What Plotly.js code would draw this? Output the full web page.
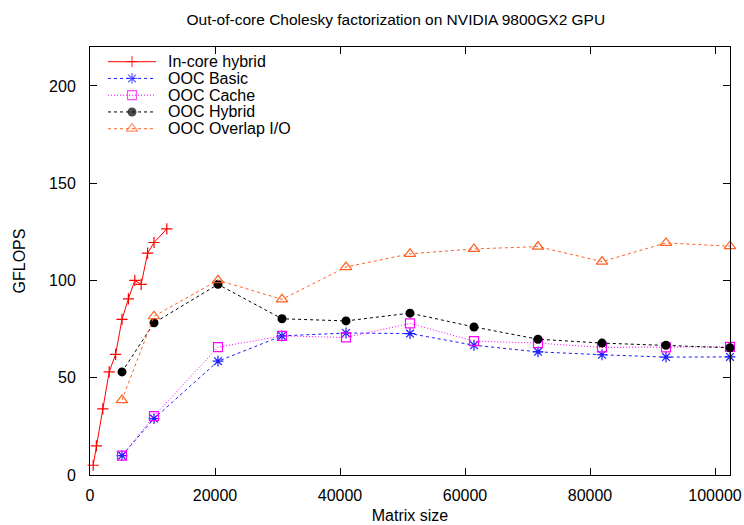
<!DOCTYPE html>
<html>
<head>
<meta charset="utf-8">
<script src="https://cdn.plot.ly/plotly-3.0.1.min.js"></script>
<style>html,body{margin:0;padding:0;background:#fff;}#chart{width:744px;height:525px;}</style>
</head>
<body>
<div id="chart"></div>
<script>
// ---- data ----
const seriesNames = ["In-core hybrid", "OOC Basic", "OOC Cache", "OOC Hybrid", "OOC Overlap I/O"];
const inCoreX = [512, 1024, 2048, 3072, 4096, 5120, 6144, 7168, 8192, 9216, 10240, 12288];
const inCoreY = [5, 15, 34, 53, 62, 80, 90.5, 100, 98, 114, 119.5, 126.5];
const oocX = [5120, 10240, 20480, 30720, 40960, 51200, 61440, 71680, 81920, 92160, 102400];
const basicY = [10, 29, 58.5, 71.5, 73, 72.7, 66.7, 63.3, 61.8, 60.6, 60.7];
const cacheY = [10, 30.3, 65.7, 71.5, 70.7, 77.9, 68.8, 67.8, 65.6, 65.6, 65.9];
const hybridY = [53, 78.2, 98, 80.3, 79.2, 83.2, 76.1, 69.8, 67.8, 66.7, 65.4];
const overlapY = [38.5, 81.6, 100.1, 90.3, 106.9, 113.7, 116.2, 117.4, 109.7, 119.3, 117.6];
const xTicks = [0, 20000, 40000, 60000, 80000, 100000];
const yTicks = [0, 50, 100, 150, 200];

// ---- styles ----
const styles = [
  {color: "#ff0000", dash: "solid", symbol: "cross-thin-open", size: 8, mlw: 1.2},
  {color: "#1a1aff", dash: "3px,3px", symbol: "asterisk-open", size: 9, mlw: 1.2},
  {color: "#ff00ff", dash: "1px,2px", symbol: "square-open", size: 9, mlw: 1.2},
  {color: "#000000", dash: "3px,3px", symbol: "circle", size: 9, mlw: 0},
  {color: "#ff6020", dash: "3px,3px", symbol: "triangle-up-open", size: 10, mlw: 1.2}
];
const xs = [inCoreX, oocX, oocX, oocX, oocX];
const ys = [inCoreY, basicY, cacheY, hybridY, overlapY];

const FONT = "Liberation Sans, Arial, sans-serif";
const traces = [];
seriesNames.forEach((name, i) => {
  const s = styles[i];
  traces.push({
    type: "scatter", mode: "lines+markers", name: name,
    x: xs[i], y: ys[i], cliponaxis: false, showlegend: false,
    line: {color: s.color, width: 1, dash: s.dash},
    marker: {symbol: s.symbol, size: s.size, color: s.color, line: {color: s.color, width: s.mlw}}
  });
});

// ---- legend keys (drawn in a pixel-like overlay axis) ----
const legRow0 = 14.7, legStep = 16.75, keyX0 = 18, keyX1 = 66, textX = 76;
const annotations = [];
seriesNames.forEach((name, i) => {
  const s = styles[i];
  const yy = legRow0 + i * legStep;
  traces.push({
    type: "scatter", mode: "lines+markers", xaxis: "x2", yaxis: "y2", showlegend: false, hoverinfo: "skip",
    x: [keyX0, (keyX0 + keyX1) / 2, keyX1], y: [yy, yy, yy], cliponaxis: false,
    line: {color: s.color, width: 1, dash: s.dash},
    marker: {symbol: s.symbol, size: [0, s.size, 0], color: s.color, line: {color: s.color, width: s.mlw}}
  });
  annotations.push({
    xref: "x2", yref: "y2", x: textX, y: yy, text: name, showarrow: false,
    xanchor: "left", yanchor: "middle", font: {family: FONT, size: 16, color: "#000"}
  });
});

const layout = {
  width: 744, height: 525,
  margin: {l: 90, r: 14, t: 47, b: 50},
  paper_bgcolor: "#fff", plot_bgcolor: "#fff",
  font: {family: FONT, size: 16, color: "#000"},
  showlegend: false,
  title: {text: "Out-of-core Cholesky factorization on NVIDIA 9800GX2 GPU", x: 0.532, xanchor: "center",
          y: 0.962, yanchor: "middle", font: {family: FONT, size: 15.5, color: "#000"}},
  xaxis: {
    range: [0, 102400], tickvals: xTicks, ticktext: xTicks.map(String),
    ticks: "inside", ticklen: 7, tickcolor: "#000", tickwidth: 1,
    showline: true, linecolor: "#000", linewidth: 1, mirror: "ticks",
    showgrid: false, zeroline: false, ticklabelstandoff: 6, ticklabeloverflow: "allow",
    tickfont: {family: FONT, size: 16, color: "#000"},
    title: {text: "Matrix size", standoff: 6, font: {family: FONT, size: 16, color: "#000"}}
  },
  yaxis: {
    range: [0, 220], tickvals: yTicks, ticktext: yTicks.map(String),
    ticks: "inside", ticklen: 7, tickcolor: "#000", tickwidth: 1,
    showline: true, linecolor: "#000", linewidth: 1, mirror: "ticks",
    showgrid: false, zeroline: false, ticklabelstandoff: 10,
    tickfont: {family: FONT, size: 16, color: "#000"},
    title: {text: "GFLOPS", standoff: 19, font: {family: FONT, size: 16, color: "#000"}}
  },
  xaxis2: {overlaying: "x", range: [0, 640], visible: false, fixedrange: true},
  yaxis2: {overlaying: "y", range: [428, 0], visible: false, fixedrange: true},
  annotations: annotations
};

Plotly.newPlot("chart", traces, layout, {displayModeBar: false, staticPlot: true});
</script>
</body>
</html>
